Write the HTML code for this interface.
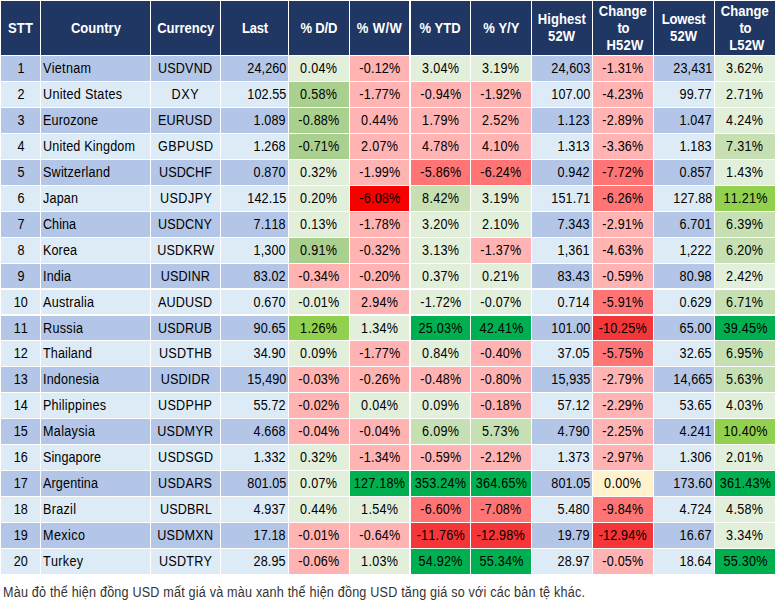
<!DOCTYPE html><html><head><meta charset="utf-8"><style>
html,body{margin:0;padding:0;background:#fff;width:777px;height:602px;overflow:hidden}
#t{position:relative;font-kerning:none;width:777px;height:602px;font-family:"Liberation Sans",Arial,sans-serif;font-size:14px;color:#000}
.x{position:absolute;box-sizing:border-box;white-space:nowrap;overflow:hidden}
.h{background:#203764;color:#fff;font-weight:bold;display:flex;align-items:center;justify-content:center;text-align:center;line-height:17px}
.al{text-align:left;padding-left:2px}
.ar{text-align:right;padding-right:2px}
.ac{text-align:center}
.o{background:#B4C6E7}
.e{background:#DDEBF7}
.kg{background:#E2EFDA}
.kG{background:#C6E0B4}
.km{background:#A9D08E}
.kl{background:#92D050}
.kB{background:#00B050}
.kp{background:#FFB3B3}
.kr{background:#FF7575}
.kR{background:#F43638}
.kX{background:#F70000}
.ky{background:#FFF2CC}
#note{position:absolute;left:3px;top:585px;font-size:14px;line-height:15px;color:#333;letter-spacing:0.215px;white-space:nowrap;transform:scaleX(0.9);transform-origin:0 0}
.sh{position:relative;left:2px}
.pc{display:inline-block;width:11px;transform:scaleX(0.82);transform-origin:0 0}
.gap{display:inline-block;width:5px}

</style></head><body><div id="t">
<div class="x h" style="left:1px;top:1px;width:39px;height:54px"><span><span style="display:inline-block;letter-spacing:0.220px;margin-right:-0.220px;transform:scaleX(0.93);transform-origin:center">STT</span></span></div>
<div class="x h" style="left:41px;top:1px;width:109px;height:54px"><span><span style="display:inline-block;letter-spacing:0.017px;margin-right:-0.017px;transform:scaleX(0.93);transform-origin:center">Country</span></span></div>
<div class="x h" style="left:151px;top:1px;width:69px;height:54px"><span><span style="display:inline-block;letter-spacing:-0.025px;margin-right:0.025px;transform:scaleX(0.93);transform-origin:center">Currency</span></span></div>
<div class="x h" style="left:221px;top:1px;width:67px;height:54px"><span><span style="display:inline-block;letter-spacing:-0.276px;margin-right:0.276px;transform:scaleX(0.93);transform-origin:center">Last</span></span></div>
<div class="x h" style="left:289px;top:1px;width:60px;height:54px"><span><span style="display:inline-block;letter-spacing:-0.166px;margin-right:0.166px;transform:scaleX(0.93);transform-origin:center">% D/D</span></span></div>
<div class="x h" style="left:350px;top:1px;width:59px;height:54px"><span><span style="display:inline-block;letter-spacing:0.433px;margin-right:-0.433px;transform:scaleX(0.93);transform-origin:center">% W/W</span></span></div>
<div class="x h" style="left:411px;top:1px;width:59px;height:54px"><span><span style="display:inline-block;letter-spacing:-0.063px;margin-right:0.063px;transform:scaleX(0.93);transform-origin:center">% YTD</span></span></div>
<div class="x h" style="left:471px;top:1px;width:60px;height:54px"><span><span style="display:inline-block;letter-spacing:-0.048px;margin-right:0.048px;transform:scaleX(0.93);transform-origin:center">% Y/Y</span></span></div>
<div class="x h" style="left:532px;top:1px;width:60px;height:54px"><span><span style="display:inline-block;letter-spacing:0.046px;margin-right:-0.046px;transform:scaleX(0.93);transform-origin:center">Highest</span><br><span style="display:inline-block;letter-spacing:0.123px;margin-right:-0.123px;transform:scaleX(0.93);transform-origin:center">52W</span></span></div>
<div class="x h" style="left:593px;top:1px;width:60px;height:54px"><span><span style="display:inline-block;letter-spacing:0.055px;margin-right:-0.055px;transform:scaleX(0.93);transform-origin:center">Change</span><br><span style="display:inline-block;letter-spacing:-0.311px;margin-right:0.311px;transform:scaleX(0.93);transform-origin:center">to</span><br><span class="sh"><span style="display:inline-block;letter-spacing:0.296px;margin-right:-0.296px;transform:scaleX(0.93);transform-origin:center">H52W</span></span></span></div>
<div class="x h" style="left:654px;top:1px;width:60px;height:54px"><span><span style="display:inline-block;letter-spacing:-0.183px;margin-right:0.183px;transform:scaleX(0.93);transform-origin:center">Lowest</span><br><span style="display:inline-block;letter-spacing:0.123px;margin-right:-0.123px;transform:scaleX(0.93);transform-origin:center">52W</span></span></div>
<div class="x h" style="left:715px;top:1px;width:60px;height:54px"><span><span style="display:inline-block;letter-spacing:0.055px;margin-right:-0.055px;transform:scaleX(0.93);transform-origin:center">Change</span><br><span style="display:inline-block;letter-spacing:-0.311px;margin-right:0.311px;transform:scaleX(0.93);transform-origin:center">to</span><br><span class="sh"><span style="display:inline-block;letter-spacing:0.099px;margin-right:-0.099px;transform:scaleX(0.93);transform-origin:center">L52W</span></span></span></div>
<div class="x ac o" style="left:1px;top:56px;width:39px;height:25px;line-height:25px"><span style="display:inline-block;letter-spacing:0.000px;margin-right:-0.000px;transform:scaleX(0.9);transform-origin:center">1</span></div>
<div class="x al o" style="left:41px;top:56px;width:109px;height:25px;line-height:25px"><span style="display:inline-block;letter-spacing:0.329px;margin-right:-0.329px;transform:scaleX(0.9);transform-origin:left">Vietnam</span></div>
<div class="x ac o" style="left:151px;top:56px;width:69px;height:25px;line-height:25px"><span style="display:inline-block;letter-spacing:0.177px;margin-right:-0.177px;transform:scaleX(0.9);transform-origin:center">USDVND</span></div>
<div class="x ar o" style="left:221px;top:56px;width:67px;height:25px;line-height:25px"><span style="display:inline-block;letter-spacing:0.103px;margin-right:-0.103px;transform:scaleX(0.9);transform-origin:right">24,260</span></div>
<div class="x ac kg" style="left:289px;top:56px;width:60px;height:25px;line-height:25px"><span style="display:inline-block;letter-spacing:0.354px;margin-right:-0.354px;transform:scaleX(0.9);transform-origin:center">0.04%</span></div>
<div class="x ac kp" style="left:350px;top:56px;width:59px;height:25px;line-height:25px"><span style="display:inline-block;letter-spacing:0.239px;margin-right:-0.239px;transform:scaleX(0.9);transform-origin:center">-0.12%</span></div>
<div class="x ac kg" style="left:411px;top:56px;width:59px;height:25px;line-height:25px"><span style="display:inline-block;letter-spacing:0.354px;margin-right:-0.354px;transform:scaleX(0.9);transform-origin:center">3.04%</span></div>
<div class="x ac kg" style="left:471px;top:56px;width:60px;height:25px;line-height:25px"><span style="display:inline-block;letter-spacing:0.354px;margin-right:-0.354px;transform:scaleX(0.9);transform-origin:center">3.19%</span></div>
<div class="x ar o" style="left:532px;top:56px;width:60px;height:25px;line-height:25px"><span style="display:inline-block;letter-spacing:0.103px;margin-right:-0.103px;transform:scaleX(0.9);transform-origin:right">24,603</span></div>
<div class="x ac kp" style="left:593px;top:56px;width:60px;height:25px;line-height:25px"><span style="display:inline-block;letter-spacing:0.239px;margin-right:-0.239px;transform:scaleX(0.9);transform-origin:center">-1.31%</span></div>
<div class="x ar o" style="left:654px;top:56px;width:60px;height:25px;line-height:25px"><span style="display:inline-block;letter-spacing:0.103px;margin-right:-0.103px;transform:scaleX(0.9);transform-origin:right">23,431</span></div>
<div class="x ac kg" style="left:715px;top:56px;width:60px;height:25px;line-height:25px"><span style="display:inline-block;letter-spacing:0.354px;margin-right:-0.354px;transform:scaleX(0.9);transform-origin:center">3.62%</span></div>
<div class="x ac e" style="left:1px;top:82px;width:39px;height:25px;line-height:25px"><span style="display:inline-block;letter-spacing:0.000px;margin-right:-0.000px;transform:scaleX(0.9);transform-origin:center">2</span></div>
<div class="x al e" style="left:41px;top:82px;width:109px;height:25px;line-height:25px"><span style="display:inline-block;letter-spacing:0.311px;margin-right:-0.311px;transform:scaleX(0.9);transform-origin:left">United States</span></div>
<div class="x ac e" style="left:151px;top:82px;width:69px;height:25px;line-height:25px"><span style="display:inline-block;letter-spacing:0.607px;margin-right:-0.607px;transform:scaleX(0.9);transform-origin:center">DXY</span></div>
<div class="x ar e" style="left:221px;top:82px;width:67px;height:25px;line-height:25px"><span style="display:inline-block;letter-spacing:0.103px;margin-right:-0.103px;transform:scaleX(0.9);transform-origin:right">102.55</span></div>
<div class="x ac km" style="left:289px;top:82px;width:60px;height:25px;line-height:25px"><span style="display:inline-block;letter-spacing:0.354px;margin-right:-0.354px;transform:scaleX(0.9);transform-origin:center">0.58%</span></div>
<div class="x ac kp" style="left:350px;top:82px;width:59px;height:25px;line-height:25px"><span style="display:inline-block;letter-spacing:0.239px;margin-right:-0.239px;transform:scaleX(0.9);transform-origin:center">-1.77%</span></div>
<div class="x ac kp" style="left:411px;top:82px;width:59px;height:25px;line-height:25px"><span style="display:inline-block;letter-spacing:0.239px;margin-right:-0.239px;transform:scaleX(0.9);transform-origin:center">-0.94%</span></div>
<div class="x ac kp" style="left:471px;top:82px;width:60px;height:25px;line-height:25px"><span style="display:inline-block;letter-spacing:0.239px;margin-right:-0.239px;transform:scaleX(0.9);transform-origin:center">-1.92%</span></div>
<div class="x ar e" style="left:532px;top:82px;width:60px;height:25px;line-height:25px"><span style="display:inline-block;letter-spacing:0.103px;margin-right:-0.103px;transform:scaleX(0.9);transform-origin:right">107.00</span></div>
<div class="x ac kp" style="left:593px;top:82px;width:60px;height:25px;line-height:25px"><span style="display:inline-block;letter-spacing:0.239px;margin-right:-0.239px;transform:scaleX(0.9);transform-origin:center">-4.23%</span></div>
<div class="x ar e" style="left:654px;top:82px;width:60px;height:25px;line-height:25px"><span style="display:inline-block;letter-spacing:0.130px;margin-right:-0.130px;transform:scaleX(0.9);transform-origin:right">99.77</span></div>
<div class="x ac kg" style="left:715px;top:82px;width:60px;height:25px;line-height:25px"><span style="display:inline-block;letter-spacing:0.354px;margin-right:-0.354px;transform:scaleX(0.9);transform-origin:center">2.71%</span></div>
<div class="x ac o" style="left:1px;top:108px;width:39px;height:25px;line-height:25px"><span style="display:inline-block;letter-spacing:0.000px;margin-right:-0.000px;transform:scaleX(0.9);transform-origin:center">3</span></div>
<div class="x al o" style="left:41px;top:108px;width:109px;height:25px;line-height:25px"><span style="display:inline-block;letter-spacing:0.169px;margin-right:-0.169px;transform:scaleX(0.9);transform-origin:left">Eurozone</span></div>
<div class="x ac o" style="left:151px;top:108px;width:69px;height:25px;line-height:25px"><span style="display:inline-block;letter-spacing:0.177px;margin-right:-0.177px;transform:scaleX(0.9);transform-origin:center">EURUSD</span></div>
<div class="x ar o" style="left:221px;top:108px;width:67px;height:25px;line-height:25px"><span style="display:inline-block;letter-spacing:0.130px;margin-right:-0.130px;transform:scaleX(0.9);transform-origin:right">1.089</span></div>
<div class="x ac km" style="left:289px;top:108px;width:60px;height:25px;line-height:25px"><span style="display:inline-block;letter-spacing:0.239px;margin-right:-0.239px;transform:scaleX(0.9);transform-origin:center">-0.88%</span></div>
<div class="x ac kp" style="left:350px;top:108px;width:59px;height:25px;line-height:25px"><span style="display:inline-block;letter-spacing:0.354px;margin-right:-0.354px;transform:scaleX(0.9);transform-origin:center">0.44%</span></div>
<div class="x ac kp" style="left:411px;top:108px;width:59px;height:25px;line-height:25px"><span style="display:inline-block;letter-spacing:0.354px;margin-right:-0.354px;transform:scaleX(0.9);transform-origin:center">1.79%</span></div>
<div class="x ac kp" style="left:471px;top:108px;width:60px;height:25px;line-height:25px"><span style="display:inline-block;letter-spacing:0.354px;margin-right:-0.354px;transform:scaleX(0.9);transform-origin:center">2.52%</span></div>
<div class="x ar o" style="left:532px;top:108px;width:60px;height:25px;line-height:25px"><span style="display:inline-block;letter-spacing:0.130px;margin-right:-0.130px;transform:scaleX(0.9);transform-origin:right">1.123</span></div>
<div class="x ac kp" style="left:593px;top:108px;width:60px;height:25px;line-height:25px"><span style="display:inline-block;letter-spacing:0.239px;margin-right:-0.239px;transform:scaleX(0.9);transform-origin:center">-2.89%</span></div>
<div class="x ar o" style="left:654px;top:108px;width:60px;height:25px;line-height:25px"><span style="display:inline-block;letter-spacing:0.130px;margin-right:-0.130px;transform:scaleX(0.9);transform-origin:right">1.047</span></div>
<div class="x ac kg" style="left:715px;top:108px;width:60px;height:25px;line-height:25px"><span style="display:inline-block;letter-spacing:0.354px;margin-right:-0.354px;transform:scaleX(0.9);transform-origin:center">4.24%</span></div>
<div class="x ac e" style="left:1px;top:134px;width:39px;height:25px;line-height:25px"><span style="display:inline-block;letter-spacing:0.000px;margin-right:-0.000px;transform:scaleX(0.9);transform-origin:center">4</span></div>
<div class="x al e" style="left:41px;top:134px;width:109px;height:25px;line-height:25px"><span style="display:inline-block;letter-spacing:0.201px;margin-right:-0.201px;transform:scaleX(0.9);transform-origin:left">United Kingdom</span></div>
<div class="x ac e" style="left:151px;top:134px;width:69px;height:25px;line-height:25px"><span style="display:inline-block;letter-spacing:0.397px;margin-right:-0.397px;transform:scaleX(0.9);transform-origin:center">GBPUSD</span></div>
<div class="x ar e" style="left:221px;top:134px;width:67px;height:25px;line-height:25px"><span style="display:inline-block;letter-spacing:0.130px;margin-right:-0.130px;transform:scaleX(0.9);transform-origin:right">1.268</span></div>
<div class="x ac km" style="left:289px;top:134px;width:60px;height:25px;line-height:25px"><span style="display:inline-block;letter-spacing:0.239px;margin-right:-0.239px;transform:scaleX(0.9);transform-origin:center">-0.71%</span></div>
<div class="x ac kp" style="left:350px;top:134px;width:59px;height:25px;line-height:25px"><span style="display:inline-block;letter-spacing:0.354px;margin-right:-0.354px;transform:scaleX(0.9);transform-origin:center">2.07%</span></div>
<div class="x ac kp" style="left:411px;top:134px;width:59px;height:25px;line-height:25px"><span style="display:inline-block;letter-spacing:0.354px;margin-right:-0.354px;transform:scaleX(0.9);transform-origin:center">4.78%</span></div>
<div class="x ac kp" style="left:471px;top:134px;width:60px;height:25px;line-height:25px"><span style="display:inline-block;letter-spacing:0.354px;margin-right:-0.354px;transform:scaleX(0.9);transform-origin:center">4.10%</span></div>
<div class="x ar e" style="left:532px;top:134px;width:60px;height:25px;line-height:25px"><span style="display:inline-block;letter-spacing:0.130px;margin-right:-0.130px;transform:scaleX(0.9);transform-origin:right">1.313</span></div>
<div class="x ac kp" style="left:593px;top:134px;width:60px;height:25px;line-height:25px"><span style="display:inline-block;letter-spacing:0.239px;margin-right:-0.239px;transform:scaleX(0.9);transform-origin:center">-3.36%</span></div>
<div class="x ar e" style="left:654px;top:134px;width:60px;height:25px;line-height:25px"><span style="display:inline-block;letter-spacing:0.130px;margin-right:-0.130px;transform:scaleX(0.9);transform-origin:right">1.183</span></div>
<div class="x ac kG" style="left:715px;top:134px;width:60px;height:25px;line-height:25px"><span style="display:inline-block;letter-spacing:0.354px;margin-right:-0.354px;transform:scaleX(0.9);transform-origin:center">7.31%</span></div>
<div class="x ac o" style="left:1px;top:160px;width:39px;height:25px;line-height:25px"><span style="display:inline-block;letter-spacing:0.000px;margin-right:-0.000px;transform:scaleX(0.9);transform-origin:center">5</span></div>
<div class="x al o" style="left:41px;top:160px;width:109px;height:25px;line-height:25px"><span style="display:inline-block;letter-spacing:0.208px;margin-right:-0.208px;transform:scaleX(0.9);transform-origin:left">Switzerland</span></div>
<div class="x ac o" style="left:151px;top:160px;width:69px;height:25px;line-height:25px"><span style="display:inline-block;letter-spacing:0.112px;margin-right:-0.112px;transform:scaleX(0.9);transform-origin:center">USDCHF</span></div>
<div class="x ar o" style="left:221px;top:160px;width:67px;height:25px;line-height:25px"><span style="display:inline-block;letter-spacing:0.130px;margin-right:-0.130px;transform:scaleX(0.9);transform-origin:right">0.870</span></div>
<div class="x ac kg" style="left:289px;top:160px;width:60px;height:25px;line-height:25px"><span style="display:inline-block;letter-spacing:0.354px;margin-right:-0.354px;transform:scaleX(0.9);transform-origin:center">0.32%</span></div>
<div class="x ac kp" style="left:350px;top:160px;width:59px;height:25px;line-height:25px"><span style="display:inline-block;letter-spacing:0.239px;margin-right:-0.239px;transform:scaleX(0.9);transform-origin:center">-1.99%</span></div>
<div class="x ac kr" style="left:411px;top:160px;width:59px;height:25px;line-height:25px"><span style="display:inline-block;letter-spacing:0.239px;margin-right:-0.239px;transform:scaleX(0.9);transform-origin:center">-5.86%</span></div>
<div class="x ac kr" style="left:471px;top:160px;width:60px;height:25px;line-height:25px"><span style="display:inline-block;letter-spacing:0.239px;margin-right:-0.239px;transform:scaleX(0.9);transform-origin:center">-6.24%</span></div>
<div class="x ar o" style="left:532px;top:160px;width:60px;height:25px;line-height:25px"><span style="display:inline-block;letter-spacing:0.130px;margin-right:-0.130px;transform:scaleX(0.9);transform-origin:right">0.942</span></div>
<div class="x ac kr" style="left:593px;top:160px;width:60px;height:25px;line-height:25px"><span style="display:inline-block;letter-spacing:0.239px;margin-right:-0.239px;transform:scaleX(0.9);transform-origin:center">-7.72%</span></div>
<div class="x ar o" style="left:654px;top:160px;width:60px;height:25px;line-height:25px"><span style="display:inline-block;letter-spacing:0.130px;margin-right:-0.130px;transform:scaleX(0.9);transform-origin:right">0.857</span></div>
<div class="x ac kg" style="left:715px;top:160px;width:60px;height:25px;line-height:25px"><span style="display:inline-block;letter-spacing:0.354px;margin-right:-0.354px;transform:scaleX(0.9);transform-origin:center">1.43%</span></div>
<div class="x ac e" style="left:1px;top:186px;width:39px;height:25px;line-height:25px"><span style="display:inline-block;letter-spacing:0.000px;margin-right:-0.000px;transform:scaleX(0.9);transform-origin:center">6</span></div>
<div class="x al e" style="left:41px;top:186px;width:109px;height:25px;line-height:25px"><span style="display:inline-block;letter-spacing:0.186px;margin-right:-0.186px;transform:scaleX(0.9);transform-origin:left">Japan</span></div>
<div class="x ac e" style="left:151px;top:186px;width:69px;height:25px;line-height:25px"><span style="display:inline-block;letter-spacing:0.509px;margin-right:-0.509px;transform:scaleX(0.9);transform-origin:center">USDJPY</span></div>
<div class="x ar e" style="left:221px;top:186px;width:67px;height:25px;line-height:25px"><span style="display:inline-block;letter-spacing:0.103px;margin-right:-0.103px;transform:scaleX(0.9);transform-origin:right">142.15</span></div>
<div class="x ac kg" style="left:289px;top:186px;width:60px;height:25px;line-height:25px"><span style="display:inline-block;letter-spacing:0.354px;margin-right:-0.354px;transform:scaleX(0.9);transform-origin:center">0.20%</span></div>
<div class="x ac kX" style="left:350px;top:186px;width:59px;height:25px;line-height:25px"><span style="display:inline-block;letter-spacing:0.239px;margin-right:-0.239px;transform:scaleX(0.9);transform-origin:center">-6.08%</span></div>
<div class="x ac kG" style="left:411px;top:186px;width:59px;height:25px;line-height:25px"><span style="display:inline-block;letter-spacing:0.354px;margin-right:-0.354px;transform:scaleX(0.9);transform-origin:center">8.42%</span></div>
<div class="x ac kg" style="left:471px;top:186px;width:60px;height:25px;line-height:25px"><span style="display:inline-block;letter-spacing:0.354px;margin-right:-0.354px;transform:scaleX(0.9);transform-origin:center">3.19%</span></div>
<div class="x ar e" style="left:532px;top:186px;width:60px;height:25px;line-height:25px"><span style="display:inline-block;letter-spacing:0.103px;margin-right:-0.103px;transform:scaleX(0.9);transform-origin:right">151.71</span></div>
<div class="x ac kr" style="left:593px;top:186px;width:60px;height:25px;line-height:25px"><span style="display:inline-block;letter-spacing:0.239px;margin-right:-0.239px;transform:scaleX(0.9);transform-origin:center">-6.26%</span></div>
<div class="x ar e" style="left:654px;top:186px;width:60px;height:25px;line-height:25px"><span style="display:inline-block;letter-spacing:0.103px;margin-right:-0.103px;transform:scaleX(0.9);transform-origin:right">127.88</span></div>
<div class="x ac kl" style="left:715px;top:186px;width:60px;height:25px;line-height:25px"><span style="display:inline-block;letter-spacing:0.281px;margin-right:-0.281px;transform:scaleX(0.9);transform-origin:center">11.21%</span></div>
<div class="x ac o" style="left:1px;top:212px;width:39px;height:25px;line-height:25px"><span style="display:inline-block;letter-spacing:0.000px;margin-right:-0.000px;transform:scaleX(0.9);transform-origin:center">7</span></div>
<div class="x al o" style="left:41px;top:212px;width:109px;height:25px;line-height:25px"><span style="display:inline-block;letter-spacing:0.022px;margin-right:-0.022px;transform:scaleX(0.9);transform-origin:left">China</span></div>
<div class="x ac o" style="left:151px;top:212px;width:69px;height:25px;line-height:25px"><span style="display:inline-block;letter-spacing:0.177px;margin-right:-0.177px;transform:scaleX(0.9);transform-origin:center">USDCNY</span></div>
<div class="x ar o" style="left:221px;top:212px;width:67px;height:25px;line-height:25px"><span style="display:inline-block;letter-spacing:0.130px;margin-right:-0.130px;transform:scaleX(0.9);transform-origin:right">7.118</span></div>
<div class="x ac kg" style="left:289px;top:212px;width:60px;height:25px;line-height:25px"><span style="display:inline-block;letter-spacing:0.354px;margin-right:-0.354px;transform:scaleX(0.9);transform-origin:center">0.13%</span></div>
<div class="x ac kp" style="left:350px;top:212px;width:59px;height:25px;line-height:25px"><span style="display:inline-block;letter-spacing:0.239px;margin-right:-0.239px;transform:scaleX(0.9);transform-origin:center">-1.78%</span></div>
<div class="x ac kg" style="left:411px;top:212px;width:59px;height:25px;line-height:25px"><span style="display:inline-block;letter-spacing:0.354px;margin-right:-0.354px;transform:scaleX(0.9);transform-origin:center">3.20%</span></div>
<div class="x ac kg" style="left:471px;top:212px;width:60px;height:25px;line-height:25px"><span style="display:inline-block;letter-spacing:0.354px;margin-right:-0.354px;transform:scaleX(0.9);transform-origin:center">2.10%</span></div>
<div class="x ar o" style="left:532px;top:212px;width:60px;height:25px;line-height:25px"><span style="display:inline-block;letter-spacing:0.130px;margin-right:-0.130px;transform:scaleX(0.9);transform-origin:right">7.343</span></div>
<div class="x ac kp" style="left:593px;top:212px;width:60px;height:25px;line-height:25px"><span style="display:inline-block;letter-spacing:0.239px;margin-right:-0.239px;transform:scaleX(0.9);transform-origin:center">-2.91%</span></div>
<div class="x ar o" style="left:654px;top:212px;width:60px;height:25px;line-height:25px"><span style="display:inline-block;letter-spacing:0.130px;margin-right:-0.130px;transform:scaleX(0.9);transform-origin:right">6.701</span></div>
<div class="x ac kG" style="left:715px;top:212px;width:60px;height:25px;line-height:25px"><span style="display:inline-block;letter-spacing:0.354px;margin-right:-0.354px;transform:scaleX(0.9);transform-origin:center">6.39%</span></div>
<div class="x ac e" style="left:1px;top:238px;width:39px;height:25px;line-height:25px"><span style="display:inline-block;letter-spacing:0.000px;margin-right:-0.000px;transform:scaleX(0.9);transform-origin:center">8</span></div>
<div class="x al e" style="left:41px;top:238px;width:109px;height:25px;line-height:25px"><span style="display:inline-block;letter-spacing:0.105px;margin-right:-0.105px;transform:scaleX(0.9);transform-origin:left">Korea</span></div>
<div class="x ac e" style="left:151px;top:238px;width:69px;height:25px;line-height:25px"><span style="display:inline-block;letter-spacing:0.223px;margin-right:-0.223px;transform:scaleX(0.9);transform-origin:center">USDKRW</span></div>
<div class="x ar e" style="left:221px;top:238px;width:67px;height:25px;line-height:25px"><span style="display:inline-block;letter-spacing:0.130px;margin-right:-0.130px;transform:scaleX(0.9);transform-origin:right">1,300</span></div>
<div class="x ac km" style="left:289px;top:238px;width:60px;height:25px;line-height:25px"><span style="display:inline-block;letter-spacing:0.354px;margin-right:-0.354px;transform:scaleX(0.9);transform-origin:center">0.91%</span></div>
<div class="x ac kp" style="left:350px;top:238px;width:59px;height:25px;line-height:25px"><span style="display:inline-block;letter-spacing:0.239px;margin-right:-0.239px;transform:scaleX(0.9);transform-origin:center">-0.32%</span></div>
<div class="x ac kg" style="left:411px;top:238px;width:59px;height:25px;line-height:25px"><span style="display:inline-block;letter-spacing:0.354px;margin-right:-0.354px;transform:scaleX(0.9);transform-origin:center">3.13%</span></div>
<div class="x ac kp" style="left:471px;top:238px;width:60px;height:25px;line-height:25px"><span style="display:inline-block;letter-spacing:0.239px;margin-right:-0.239px;transform:scaleX(0.9);transform-origin:center">-1.37%</span></div>
<div class="x ar e" style="left:532px;top:238px;width:60px;height:25px;line-height:25px"><span style="display:inline-block;letter-spacing:0.130px;margin-right:-0.130px;transform:scaleX(0.9);transform-origin:right">1,361</span></div>
<div class="x ac kp" style="left:593px;top:238px;width:60px;height:25px;line-height:25px"><span style="display:inline-block;letter-spacing:0.239px;margin-right:-0.239px;transform:scaleX(0.9);transform-origin:center">-4.63%</span></div>
<div class="x ar e" style="left:654px;top:238px;width:60px;height:25px;line-height:25px"><span style="display:inline-block;letter-spacing:0.130px;margin-right:-0.130px;transform:scaleX(0.9);transform-origin:right">1,222</span></div>
<div class="x ac kG" style="left:715px;top:238px;width:60px;height:25px;line-height:25px"><span style="display:inline-block;letter-spacing:0.354px;margin-right:-0.354px;transform:scaleX(0.9);transform-origin:center">6.20%</span></div>
<div class="x ac o" style="left:1px;top:264px;width:39px;height:24px;line-height:24px"><span style="display:inline-block;letter-spacing:0.000px;margin-right:-0.000px;transform:scaleX(0.9);transform-origin:center">9</span></div>
<div class="x al o" style="left:41px;top:264px;width:109px;height:24px;line-height:24px"><span style="display:inline-block;letter-spacing:0.188px;margin-right:-0.188px;transform:scaleX(0.9);transform-origin:left">India</span></div>
<div class="x ac o" style="left:151px;top:264px;width:69px;height:24px;line-height:24px"><span style="display:inline-block;letter-spacing:0.155px;margin-right:-0.155px;transform:scaleX(0.9);transform-origin:center">USDINR</span></div>
<div class="x ar o" style="left:221px;top:264px;width:67px;height:24px;line-height:24px"><span style="display:inline-block;letter-spacing:0.130px;margin-right:-0.130px;transform:scaleX(0.9);transform-origin:right">83.02</span></div>
<div class="x ac kp" style="left:289px;top:264px;width:60px;height:24px;line-height:24px"><span style="display:inline-block;letter-spacing:0.239px;margin-right:-0.239px;transform:scaleX(0.9);transform-origin:center">-0.34%</span></div>
<div class="x ac kp" style="left:350px;top:264px;width:59px;height:24px;line-height:24px"><span style="display:inline-block;letter-spacing:0.239px;margin-right:-0.239px;transform:scaleX(0.9);transform-origin:center">-0.20%</span></div>
<div class="x ac kg" style="left:411px;top:264px;width:59px;height:24px;line-height:24px"><span style="display:inline-block;letter-spacing:0.354px;margin-right:-0.354px;transform:scaleX(0.9);transform-origin:center">0.37%</span></div>
<div class="x ac kg" style="left:471px;top:264px;width:60px;height:24px;line-height:24px"><span style="display:inline-block;letter-spacing:0.354px;margin-right:-0.354px;transform:scaleX(0.9);transform-origin:center">0.21%</span></div>
<div class="x ar o" style="left:532px;top:264px;width:60px;height:24px;line-height:24px"><span style="display:inline-block;letter-spacing:0.130px;margin-right:-0.130px;transform:scaleX(0.9);transform-origin:right">83.43</span></div>
<div class="x ac kp" style="left:593px;top:264px;width:60px;height:24px;line-height:24px"><span style="display:inline-block;letter-spacing:0.239px;margin-right:-0.239px;transform:scaleX(0.9);transform-origin:center">-0.59%</span></div>
<div class="x ar o" style="left:654px;top:264px;width:60px;height:24px;line-height:24px"><span style="display:inline-block;letter-spacing:0.130px;margin-right:-0.130px;transform:scaleX(0.9);transform-origin:right">80.98</span></div>
<div class="x ac kg" style="left:715px;top:264px;width:60px;height:24px;line-height:24px"><span style="display:inline-block;letter-spacing:0.354px;margin-right:-0.354px;transform:scaleX(0.9);transform-origin:center">2.42%</span></div>
<div class="x ac e" style="left:1px;top:290px;width:39px;height:24px;line-height:24px"><span style="display:inline-block;letter-spacing:-0.017px;margin-right:0.017px;transform:scaleX(0.9);transform-origin:center">10</span></div>
<div class="x al e" style="left:41px;top:290px;width:109px;height:24px;line-height:24px"><span style="display:inline-block;letter-spacing:0.275px;margin-right:-0.275px;transform:scaleX(0.9);transform-origin:left">Australia</span></div>
<div class="x ac e" style="left:151px;top:290px;width:69px;height:24px;line-height:24px"><span style="display:inline-block;letter-spacing:0.177px;margin-right:-0.177px;transform:scaleX(0.9);transform-origin:center">AUDUSD</span></div>
<div class="x ar e" style="left:221px;top:290px;width:67px;height:24px;line-height:24px"><span style="display:inline-block;letter-spacing:0.130px;margin-right:-0.130px;transform:scaleX(0.9);transform-origin:right">0.670</span></div>
<div class="x ac kg" style="left:289px;top:290px;width:60px;height:24px;line-height:24px"><span style="display:inline-block;letter-spacing:0.239px;margin-right:-0.239px;transform:scaleX(0.9);transform-origin:center">-0.01%</span></div>
<div class="x ac kp" style="left:350px;top:290px;width:59px;height:24px;line-height:24px"><span style="display:inline-block;letter-spacing:0.354px;margin-right:-0.354px;transform:scaleX(0.9);transform-origin:center">2.94%</span></div>
<div class="x ac kg" style="left:411px;top:290px;width:59px;height:24px;line-height:24px"><span style="display:inline-block;letter-spacing:0.239px;margin-right:-0.239px;transform:scaleX(0.9);transform-origin:center">-1.72%</span></div>
<div class="x ac kg" style="left:471px;top:290px;width:60px;height:24px;line-height:24px"><span style="display:inline-block;letter-spacing:0.239px;margin-right:-0.239px;transform:scaleX(0.9);transform-origin:center">-0.07%</span></div>
<div class="x ar e" style="left:532px;top:290px;width:60px;height:24px;line-height:24px"><span style="display:inline-block;letter-spacing:0.130px;margin-right:-0.130px;transform:scaleX(0.9);transform-origin:right">0.714</span></div>
<div class="x ac kr" style="left:593px;top:290px;width:60px;height:24px;line-height:24px"><span style="display:inline-block;letter-spacing:0.239px;margin-right:-0.239px;transform:scaleX(0.9);transform-origin:center">-5.91%</span></div>
<div class="x ar e" style="left:654px;top:290px;width:60px;height:24px;line-height:24px"><span style="display:inline-block;letter-spacing:0.130px;margin-right:-0.130px;transform:scaleX(0.9);transform-origin:right">0.629</span></div>
<div class="x ac kG" style="left:715px;top:290px;width:60px;height:24px;line-height:24px"><span style="display:inline-block;letter-spacing:0.354px;margin-right:-0.354px;transform:scaleX(0.9);transform-origin:center">6.71%</span></div>
<div class="x ac o" style="left:1px;top:316px;width:39px;height:24px;line-height:24px"><span style="display:inline-block;letter-spacing:-0.017px;margin-right:0.017px;transform:scaleX(0.9);transform-origin:center">11</span></div>
<div class="x al o" style="left:41px;top:316px;width:109px;height:24px;line-height:24px"><span style="display:inline-block;letter-spacing:0.330px;margin-right:-0.330px;transform:scaleX(0.9);transform-origin:left">Russia</span></div>
<div class="x ac o" style="left:151px;top:316px;width:69px;height:24px;line-height:24px"><span style="display:inline-block;letter-spacing:0.177px;margin-right:-0.177px;transform:scaleX(0.9);transform-origin:center">USDRUB</span></div>
<div class="x ar o" style="left:221px;top:316px;width:67px;height:24px;line-height:24px"><span style="display:inline-block;letter-spacing:0.130px;margin-right:-0.130px;transform:scaleX(0.9);transform-origin:right">90.65</span></div>
<div class="x ac kl" style="left:289px;top:316px;width:60px;height:24px;line-height:24px"><span style="display:inline-block;letter-spacing:0.354px;margin-right:-0.354px;transform:scaleX(0.9);transform-origin:center">1.26%</span></div>
<div class="x ac kg" style="left:350px;top:316px;width:59px;height:24px;line-height:24px"><span style="display:inline-block;letter-spacing:0.354px;margin-right:-0.354px;transform:scaleX(0.9);transform-origin:center">1.34%</span></div>
<div class="x ac kB" style="left:411px;top:316px;width:59px;height:24px;line-height:24px"><span style="display:inline-block;letter-spacing:0.281px;margin-right:-0.281px;transform:scaleX(0.9);transform-origin:center">25.03%</span></div>
<div class="x ac kB" style="left:471px;top:316px;width:60px;height:24px;line-height:24px"><span style="display:inline-block;letter-spacing:0.281px;margin-right:-0.281px;transform:scaleX(0.9);transform-origin:center">42.41%</span></div>
<div class="x ar o" style="left:532px;top:316px;width:60px;height:24px;line-height:24px"><span style="display:inline-block;letter-spacing:0.103px;margin-right:-0.103px;transform:scaleX(0.9);transform-origin:right">101.00</span></div>
<div class="x ac kR" style="left:593px;top:316px;width:60px;height:24px;line-height:24px"><span style="display:inline-block;letter-spacing:0.198px;margin-right:-0.198px;transform:scaleX(0.9);transform-origin:center">-10.25%</span></div>
<div class="x ar o" style="left:654px;top:316px;width:60px;height:24px;line-height:24px"><span style="display:inline-block;letter-spacing:0.130px;margin-right:-0.130px;transform:scaleX(0.9);transform-origin:right">65.00</span></div>
<div class="x ac kB" style="left:715px;top:316px;width:60px;height:24px;line-height:24px"><span style="display:inline-block;letter-spacing:0.281px;margin-right:-0.281px;transform:scaleX(0.9);transform-origin:center">39.45%</span></div>
<div class="x ac e" style="left:1px;top:341px;width:39px;height:25px;line-height:25px"><span style="display:inline-block;letter-spacing:-0.017px;margin-right:0.017px;transform:scaleX(0.9);transform-origin:center">12</span></div>
<div class="x al e" style="left:41px;top:341px;width:109px;height:25px;line-height:25px"><span style="display:inline-block;letter-spacing:0.106px;margin-right:-0.106px;transform:scaleX(0.9);transform-origin:left">Thailand</span></div>
<div class="x ac e" style="left:151px;top:341px;width:69px;height:25px;line-height:25px"><span style="display:inline-block;letter-spacing:0.266px;margin-right:-0.266px;transform:scaleX(0.9);transform-origin:center">USDTHB</span></div>
<div class="x ar e" style="left:221px;top:341px;width:67px;height:25px;line-height:25px"><span style="display:inline-block;letter-spacing:0.130px;margin-right:-0.130px;transform:scaleX(0.9);transform-origin:right">34.90</span></div>
<div class="x ac kg" style="left:289px;top:341px;width:60px;height:25px;line-height:25px"><span style="display:inline-block;letter-spacing:0.354px;margin-right:-0.354px;transform:scaleX(0.9);transform-origin:center">0.09%</span></div>
<div class="x ac kp" style="left:350px;top:341px;width:59px;height:25px;line-height:25px"><span style="display:inline-block;letter-spacing:0.239px;margin-right:-0.239px;transform:scaleX(0.9);transform-origin:center">-1.77%</span></div>
<div class="x ac kg" style="left:411px;top:341px;width:59px;height:25px;line-height:25px"><span style="display:inline-block;letter-spacing:0.354px;margin-right:-0.354px;transform:scaleX(0.9);transform-origin:center">0.84%</span></div>
<div class="x ac kp" style="left:471px;top:341px;width:60px;height:25px;line-height:25px"><span style="display:inline-block;letter-spacing:0.239px;margin-right:-0.239px;transform:scaleX(0.9);transform-origin:center">-0.40%</span></div>
<div class="x ar e" style="left:532px;top:341px;width:60px;height:25px;line-height:25px"><span style="display:inline-block;letter-spacing:0.130px;margin-right:-0.130px;transform:scaleX(0.9);transform-origin:right">37.05</span></div>
<div class="x ac kr" style="left:593px;top:341px;width:60px;height:25px;line-height:25px"><span style="display:inline-block;letter-spacing:0.239px;margin-right:-0.239px;transform:scaleX(0.9);transform-origin:center">-5.75%</span></div>
<div class="x ar e" style="left:654px;top:341px;width:60px;height:25px;line-height:25px"><span style="display:inline-block;letter-spacing:0.130px;margin-right:-0.130px;transform:scaleX(0.9);transform-origin:right">32.65</span></div>
<div class="x ac kG" style="left:715px;top:341px;width:60px;height:25px;line-height:25px"><span style="display:inline-block;letter-spacing:0.354px;margin-right:-0.354px;transform:scaleX(0.9);transform-origin:center">6.95%</span></div>
<div class="x ac o" style="left:1px;top:367px;width:39px;height:25px;line-height:25px"><span style="display:inline-block;letter-spacing:-0.017px;margin-right:0.017px;transform:scaleX(0.9);transform-origin:center">13</span></div>
<div class="x al o" style="left:41px;top:367px;width:109px;height:25px;line-height:25px"><span style="display:inline-block;letter-spacing:0.188px;margin-right:-0.188px;transform:scaleX(0.9);transform-origin:left">Indonesia</span></div>
<div class="x ac o" style="left:151px;top:367px;width:69px;height:25px;line-height:25px"><span style="display:inline-block;letter-spacing:0.155px;margin-right:-0.155px;transform:scaleX(0.9);transform-origin:center">USDIDR</span></div>
<div class="x ar o" style="left:221px;top:367px;width:67px;height:25px;line-height:25px"><span style="display:inline-block;letter-spacing:0.103px;margin-right:-0.103px;transform:scaleX(0.9);transform-origin:right">15,490</span></div>
<div class="x ac kp" style="left:289px;top:367px;width:60px;height:25px;line-height:25px"><span style="display:inline-block;letter-spacing:0.239px;margin-right:-0.239px;transform:scaleX(0.9);transform-origin:center">-0.03%</span></div>
<div class="x ac kp" style="left:350px;top:367px;width:59px;height:25px;line-height:25px"><span style="display:inline-block;letter-spacing:0.239px;margin-right:-0.239px;transform:scaleX(0.9);transform-origin:center">-0.26%</span></div>
<div class="x ac kp" style="left:411px;top:367px;width:59px;height:25px;line-height:25px"><span style="display:inline-block;letter-spacing:0.239px;margin-right:-0.239px;transform:scaleX(0.9);transform-origin:center">-0.48%</span></div>
<div class="x ac kp" style="left:471px;top:367px;width:60px;height:25px;line-height:25px"><span style="display:inline-block;letter-spacing:0.239px;margin-right:-0.239px;transform:scaleX(0.9);transform-origin:center">-0.80%</span></div>
<div class="x ar o" style="left:532px;top:367px;width:60px;height:25px;line-height:25px"><span style="display:inline-block;letter-spacing:0.103px;margin-right:-0.103px;transform:scaleX(0.9);transform-origin:right">15,935</span></div>
<div class="x ac kp" style="left:593px;top:367px;width:60px;height:25px;line-height:25px"><span style="display:inline-block;letter-spacing:0.239px;margin-right:-0.239px;transform:scaleX(0.9);transform-origin:center">-2.79%</span></div>
<div class="x ar o" style="left:654px;top:367px;width:60px;height:25px;line-height:25px"><span style="display:inline-block;letter-spacing:0.103px;margin-right:-0.103px;transform:scaleX(0.9);transform-origin:right">14,665</span></div>
<div class="x ac kG" style="left:715px;top:367px;width:60px;height:25px;line-height:25px"><span style="display:inline-block;letter-spacing:0.354px;margin-right:-0.354px;transform:scaleX(0.9);transform-origin:center">5.63%</span></div>
<div class="x ac e" style="left:1px;top:393px;width:39px;height:25px;line-height:25px"><span style="display:inline-block;letter-spacing:-0.017px;margin-right:0.017px;transform:scaleX(0.9);transform-origin:center">14</span></div>
<div class="x al e" style="left:41px;top:393px;width:109px;height:25px;line-height:25px"><span style="display:inline-block;letter-spacing:0.229px;margin-right:-0.229px;transform:scaleX(0.9);transform-origin:left">Philippines</span></div>
<div class="x ac e" style="left:151px;top:393px;width:69px;height:25px;line-height:25px"><span style="display:inline-block;letter-spacing:0.331px;margin-right:-0.331px;transform:scaleX(0.9);transform-origin:center">USDPHP</span></div>
<div class="x ar e" style="left:221px;top:393px;width:67px;height:25px;line-height:25px"><span style="display:inline-block;letter-spacing:0.130px;margin-right:-0.130px;transform:scaleX(0.9);transform-origin:right">55.72</span></div>
<div class="x ac kp" style="left:289px;top:393px;width:60px;height:25px;line-height:25px"><span style="display:inline-block;letter-spacing:0.239px;margin-right:-0.239px;transform:scaleX(0.9);transform-origin:center">-0.02%</span></div>
<div class="x ac kg" style="left:350px;top:393px;width:59px;height:25px;line-height:25px"><span style="display:inline-block;letter-spacing:0.354px;margin-right:-0.354px;transform:scaleX(0.9);transform-origin:center">0.04%</span></div>
<div class="x ac kg" style="left:411px;top:393px;width:59px;height:25px;line-height:25px"><span style="display:inline-block;letter-spacing:0.354px;margin-right:-0.354px;transform:scaleX(0.9);transform-origin:center">0.09%</span></div>
<div class="x ac kp" style="left:471px;top:393px;width:60px;height:25px;line-height:25px"><span style="display:inline-block;letter-spacing:0.239px;margin-right:-0.239px;transform:scaleX(0.9);transform-origin:center">-0.18%</span></div>
<div class="x ar e" style="left:532px;top:393px;width:60px;height:25px;line-height:25px"><span style="display:inline-block;letter-spacing:0.130px;margin-right:-0.130px;transform:scaleX(0.9);transform-origin:right">57.12</span></div>
<div class="x ac kp" style="left:593px;top:393px;width:60px;height:25px;line-height:25px"><span style="display:inline-block;letter-spacing:0.239px;margin-right:-0.239px;transform:scaleX(0.9);transform-origin:center">-2.29%</span></div>
<div class="x ar e" style="left:654px;top:393px;width:60px;height:25px;line-height:25px"><span style="display:inline-block;letter-spacing:0.130px;margin-right:-0.130px;transform:scaleX(0.9);transform-origin:right">53.65</span></div>
<div class="x ac kg" style="left:715px;top:393px;width:60px;height:25px;line-height:25px"><span style="display:inline-block;letter-spacing:0.354px;margin-right:-0.354px;transform:scaleX(0.9);transform-origin:center">4.03%</span></div>
<div class="x ac o" style="left:1px;top:419px;width:39px;height:25px;line-height:25px"><span style="display:inline-block;letter-spacing:-0.017px;margin-right:0.017px;transform:scaleX(0.9);transform-origin:center">15</span></div>
<div class="x al o" style="left:41px;top:419px;width:109px;height:25px;line-height:25px"><span style="display:inline-block;letter-spacing:0.362px;margin-right:-0.362px;transform:scaleX(0.9);transform-origin:left">Malaysia</span></div>
<div class="x ac o" style="left:151px;top:419px;width:69px;height:25px;line-height:25px"><span style="display:inline-block;letter-spacing:0.311px;margin-right:-0.311px;transform:scaleX(0.9);transform-origin:center">USDMYR</span></div>
<div class="x ar o" style="left:221px;top:419px;width:67px;height:25px;line-height:25px"><span style="display:inline-block;letter-spacing:0.130px;margin-right:-0.130px;transform:scaleX(0.9);transform-origin:right">4.668</span></div>
<div class="x ac kp" style="left:289px;top:419px;width:60px;height:25px;line-height:25px"><span style="display:inline-block;letter-spacing:0.239px;margin-right:-0.239px;transform:scaleX(0.9);transform-origin:center">-0.04%</span></div>
<div class="x ac kp" style="left:350px;top:419px;width:59px;height:25px;line-height:25px"><span style="display:inline-block;letter-spacing:0.239px;margin-right:-0.239px;transform:scaleX(0.9);transform-origin:center">-0.04%</span></div>
<div class="x ac kG" style="left:411px;top:419px;width:59px;height:25px;line-height:25px"><span style="display:inline-block;letter-spacing:0.354px;margin-right:-0.354px;transform:scaleX(0.9);transform-origin:center">6.09%</span></div>
<div class="x ac kG" style="left:471px;top:419px;width:60px;height:25px;line-height:25px"><span style="display:inline-block;letter-spacing:0.354px;margin-right:-0.354px;transform:scaleX(0.9);transform-origin:center">5.73%</span></div>
<div class="x ar o" style="left:532px;top:419px;width:60px;height:25px;line-height:25px"><span style="display:inline-block;letter-spacing:0.130px;margin-right:-0.130px;transform:scaleX(0.9);transform-origin:right">4.790</span></div>
<div class="x ac kp" style="left:593px;top:419px;width:60px;height:25px;line-height:25px"><span style="display:inline-block;letter-spacing:0.239px;margin-right:-0.239px;transform:scaleX(0.9);transform-origin:center">-2.25%</span></div>
<div class="x ar o" style="left:654px;top:419px;width:60px;height:25px;line-height:25px"><span style="display:inline-block;letter-spacing:0.130px;margin-right:-0.130px;transform:scaleX(0.9);transform-origin:right">4.241</span></div>
<div class="x ac kl" style="left:715px;top:419px;width:60px;height:25px;line-height:25px"><span style="display:inline-block;letter-spacing:0.281px;margin-right:-0.281px;transform:scaleX(0.9);transform-origin:center">10.40%</span></div>
<div class="x ac e" style="left:1px;top:445px;width:39px;height:25px;line-height:25px"><span style="display:inline-block;letter-spacing:-0.017px;margin-right:0.017px;transform:scaleX(0.9);transform-origin:center">16</span></div>
<div class="x al e" style="left:41px;top:445px;width:109px;height:25px;line-height:25px"><span style="display:inline-block;letter-spacing:0.077px;margin-right:-0.077px;transform:scaleX(0.9);transform-origin:left">Singapore</span></div>
<div class="x ac e" style="left:151px;top:445px;width:69px;height:25px;line-height:25px"><span style="display:inline-block;letter-spacing:0.243px;margin-right:-0.243px;transform:scaleX(0.9);transform-origin:center">USDSGD</span></div>
<div class="x ar e" style="left:221px;top:445px;width:67px;height:25px;line-height:25px"><span style="display:inline-block;letter-spacing:0.130px;margin-right:-0.130px;transform:scaleX(0.9);transform-origin:right">1.332</span></div>
<div class="x ac kg" style="left:289px;top:445px;width:60px;height:25px;line-height:25px"><span style="display:inline-block;letter-spacing:0.354px;margin-right:-0.354px;transform:scaleX(0.9);transform-origin:center">0.32%</span></div>
<div class="x ac kp" style="left:350px;top:445px;width:59px;height:25px;line-height:25px"><span style="display:inline-block;letter-spacing:0.239px;margin-right:-0.239px;transform:scaleX(0.9);transform-origin:center">-1.34%</span></div>
<div class="x ac kp" style="left:411px;top:445px;width:59px;height:25px;line-height:25px"><span style="display:inline-block;letter-spacing:0.239px;margin-right:-0.239px;transform:scaleX(0.9);transform-origin:center">-0.59%</span></div>
<div class="x ac kp" style="left:471px;top:445px;width:60px;height:25px;line-height:25px"><span style="display:inline-block;letter-spacing:0.239px;margin-right:-0.239px;transform:scaleX(0.9);transform-origin:center">-2.12%</span></div>
<div class="x ar e" style="left:532px;top:445px;width:60px;height:25px;line-height:25px"><span style="display:inline-block;letter-spacing:0.130px;margin-right:-0.130px;transform:scaleX(0.9);transform-origin:right">1.373</span></div>
<div class="x ac kp" style="left:593px;top:445px;width:60px;height:25px;line-height:25px"><span style="display:inline-block;letter-spacing:0.239px;margin-right:-0.239px;transform:scaleX(0.9);transform-origin:center">-2.97%</span></div>
<div class="x ar e" style="left:654px;top:445px;width:60px;height:25px;line-height:25px"><span style="display:inline-block;letter-spacing:0.130px;margin-right:-0.130px;transform:scaleX(0.9);transform-origin:right">1.306</span></div>
<div class="x ac kg" style="left:715px;top:445px;width:60px;height:25px;line-height:25px"><span style="display:inline-block;letter-spacing:0.354px;margin-right:-0.354px;transform:scaleX(0.9);transform-origin:center">2.01%</span></div>
<div class="x ac o" style="left:1px;top:471px;width:39px;height:25px;line-height:25px"><span style="display:inline-block;letter-spacing:-0.017px;margin-right:0.017px;transform:scaleX(0.9);transform-origin:center">17</span></div>
<div class="x al o" style="left:41px;top:471px;width:109px;height:25px;line-height:25px"><span style="display:inline-block;letter-spacing:0.148px;margin-right:-0.148px;transform:scaleX(0.9);transform-origin:left">Argentina</span></div>
<div class="x ac o" style="left:151px;top:471px;width:69px;height:25px;line-height:25px"><span style="display:inline-block;letter-spacing:0.331px;margin-right:-0.331px;transform:scaleX(0.9);transform-origin:center">USDARS</span></div>
<div class="x ar o" style="left:221px;top:471px;width:67px;height:25px;line-height:25px"><span style="display:inline-block;letter-spacing:0.103px;margin-right:-0.103px;transform:scaleX(0.9);transform-origin:right">801.05</span></div>
<div class="x ac kg" style="left:289px;top:471px;width:60px;height:25px;line-height:25px"><span style="display:inline-block;letter-spacing:0.354px;margin-right:-0.354px;transform:scaleX(0.9);transform-origin:center">0.07%</span></div>
<div class="x ac kB" style="left:350px;top:471px;width:59px;height:25px;line-height:25px"><span style="display:inline-block;letter-spacing:0.233px;margin-right:-0.233px;transform:scaleX(0.9);transform-origin:center">127.18%</span></div>
<div class="x ac kB" style="left:411px;top:471px;width:59px;height:25px;line-height:25px"><span style="display:inline-block;letter-spacing:0.233px;margin-right:-0.233px;transform:scaleX(0.9);transform-origin:center">353.24%</span></div>
<div class="x ac kB" style="left:471px;top:471px;width:60px;height:25px;line-height:25px"><span style="display:inline-block;letter-spacing:0.233px;margin-right:-0.233px;transform:scaleX(0.9);transform-origin:center">364.65%</span></div>
<div class="x ar o" style="left:532px;top:471px;width:60px;height:25px;line-height:25px"><span style="display:inline-block;letter-spacing:0.103px;margin-right:-0.103px;transform:scaleX(0.9);transform-origin:right">801.05</span></div>
<div class="x ac ky" style="left:593px;top:471px;width:60px;height:25px;line-height:25px"><span style="display:inline-block;letter-spacing:0.354px;margin-right:-0.354px;transform:scaleX(0.9);transform-origin:center">0.00%</span></div>
<div class="x ar o" style="left:654px;top:471px;width:60px;height:25px;line-height:25px"><span style="display:inline-block;letter-spacing:0.103px;margin-right:-0.103px;transform:scaleX(0.9);transform-origin:right">173.60</span></div>
<div class="x ac kB" style="left:715px;top:471px;width:60px;height:25px;line-height:25px"><span style="display:inline-block;letter-spacing:0.233px;margin-right:-0.233px;transform:scaleX(0.9);transform-origin:center">361.43%</span></div>
<div class="x ac e" style="left:1px;top:497px;width:39px;height:25px;line-height:25px"><span style="display:inline-block;letter-spacing:-0.017px;margin-right:0.017px;transform:scaleX(0.9);transform-origin:center">18</span></div>
<div class="x al e" style="left:41px;top:497px;width:109px;height:25px;line-height:25px"><span style="display:inline-block;letter-spacing:0.332px;margin-right:-0.332px;transform:scaleX(0.9);transform-origin:left">Brazil</span></div>
<div class="x ac e" style="left:151px;top:497px;width:69px;height:25px;line-height:25px"><span style="display:inline-block;letter-spacing:0.197px;margin-right:-0.197px;transform:scaleX(0.9);transform-origin:center">USDBRL</span></div>
<div class="x ar e" style="left:221px;top:497px;width:67px;height:25px;line-height:25px"><span style="display:inline-block;letter-spacing:0.130px;margin-right:-0.130px;transform:scaleX(0.9);transform-origin:right">4.937</span></div>
<div class="x ac kg" style="left:289px;top:497px;width:60px;height:25px;line-height:25px"><span style="display:inline-block;letter-spacing:0.354px;margin-right:-0.354px;transform:scaleX(0.9);transform-origin:center">0.44%</span></div>
<div class="x ac kg" style="left:350px;top:497px;width:59px;height:25px;line-height:25px"><span style="display:inline-block;letter-spacing:0.354px;margin-right:-0.354px;transform:scaleX(0.9);transform-origin:center">1.54%</span></div>
<div class="x ac kr" style="left:411px;top:497px;width:59px;height:25px;line-height:25px"><span style="display:inline-block;letter-spacing:0.239px;margin-right:-0.239px;transform:scaleX(0.9);transform-origin:center">-6.60%</span></div>
<div class="x ac kr" style="left:471px;top:497px;width:60px;height:25px;line-height:25px"><span style="display:inline-block;letter-spacing:0.239px;margin-right:-0.239px;transform:scaleX(0.9);transform-origin:center">-7.08%</span></div>
<div class="x ar e" style="left:532px;top:497px;width:60px;height:25px;line-height:25px"><span style="display:inline-block;letter-spacing:0.130px;margin-right:-0.130px;transform:scaleX(0.9);transform-origin:right">5.480</span></div>
<div class="x ac kr" style="left:593px;top:497px;width:60px;height:25px;line-height:25px"><span style="display:inline-block;letter-spacing:0.239px;margin-right:-0.239px;transform:scaleX(0.9);transform-origin:center">-9.84%</span></div>
<div class="x ar e" style="left:654px;top:497px;width:60px;height:25px;line-height:25px"><span style="display:inline-block;letter-spacing:0.130px;margin-right:-0.130px;transform:scaleX(0.9);transform-origin:right">4.724</span></div>
<div class="x ac kg" style="left:715px;top:497px;width:60px;height:25px;line-height:25px"><span style="display:inline-block;letter-spacing:0.354px;margin-right:-0.354px;transform:scaleX(0.9);transform-origin:center">4.58%</span></div>
<div class="x ac o" style="left:1px;top:523px;width:39px;height:25px;line-height:25px"><span style="display:inline-block;letter-spacing:-0.017px;margin-right:0.017px;transform:scaleX(0.9);transform-origin:center">19</span></div>
<div class="x al o" style="left:41px;top:523px;width:109px;height:25px;line-height:25px"><span style="display:inline-block;letter-spacing:0.464px;margin-right:-0.464px;transform:scaleX(0.9);transform-origin:left">Mexico</span></div>
<div class="x ac o" style="left:151px;top:523px;width:69px;height:25px;line-height:25px"><span style="display:inline-block;letter-spacing:0.311px;margin-right:-0.311px;transform:scaleX(0.9);transform-origin:center">USDMXN</span></div>
<div class="x ar o" style="left:221px;top:523px;width:67px;height:25px;line-height:25px"><span style="display:inline-block;letter-spacing:0.130px;margin-right:-0.130px;transform:scaleX(0.9);transform-origin:right">17.18</span></div>
<div class="x ac kp" style="left:289px;top:523px;width:60px;height:25px;line-height:25px"><span style="display:inline-block;letter-spacing:0.239px;margin-right:-0.239px;transform:scaleX(0.9);transform-origin:center">-0.01%</span></div>
<div class="x ac kp" style="left:350px;top:523px;width:59px;height:25px;line-height:25px"><span style="display:inline-block;letter-spacing:0.239px;margin-right:-0.239px;transform:scaleX(0.9);transform-origin:center">-0.64%</span></div>
<div class="x ac kR" style="left:411px;top:523px;width:59px;height:25px;line-height:25px"><span style="display:inline-block;letter-spacing:0.198px;margin-right:-0.198px;transform:scaleX(0.9);transform-origin:center">-11.76%</span></div>
<div class="x ac kR" style="left:471px;top:523px;width:60px;height:25px;line-height:25px"><span style="display:inline-block;letter-spacing:0.198px;margin-right:-0.198px;transform:scaleX(0.9);transform-origin:center">-12.98%</span></div>
<div class="x ar o" style="left:532px;top:523px;width:60px;height:25px;line-height:25px"><span style="display:inline-block;letter-spacing:0.130px;margin-right:-0.130px;transform:scaleX(0.9);transform-origin:right">19.79</span></div>
<div class="x ac kR" style="left:593px;top:523px;width:60px;height:25px;line-height:25px"><span style="display:inline-block;letter-spacing:0.198px;margin-right:-0.198px;transform:scaleX(0.9);transform-origin:center">-12.94%</span></div>
<div class="x ar o" style="left:654px;top:523px;width:60px;height:25px;line-height:25px"><span style="display:inline-block;letter-spacing:0.130px;margin-right:-0.130px;transform:scaleX(0.9);transform-origin:right">16.67</span></div>
<div class="x ac kg" style="left:715px;top:523px;width:60px;height:25px;line-height:25px"><span style="display:inline-block;letter-spacing:0.354px;margin-right:-0.354px;transform:scaleX(0.9);transform-origin:center">3.34%</span></div>
<div class="x ac e" style="left:1px;top:549px;width:39px;height:25px;line-height:25px"><span style="display:inline-block;letter-spacing:-0.017px;margin-right:0.017px;transform:scaleX(0.9);transform-origin:center">20</span></div>
<div class="x al e" style="left:41px;top:549px;width:109px;height:25px;line-height:25px"><span style="display:inline-block;letter-spacing:0.332px;margin-right:-0.332px;transform:scaleX(0.9);transform-origin:left">Turkey</span></div>
<div class="x ac e" style="left:151px;top:549px;width:69px;height:25px;line-height:25px"><span style="display:inline-block;letter-spacing:0.266px;margin-right:-0.266px;transform:scaleX(0.9);transform-origin:center">USDTRY</span></div>
<div class="x ar e" style="left:221px;top:549px;width:67px;height:25px;line-height:25px"><span style="display:inline-block;letter-spacing:0.130px;margin-right:-0.130px;transform:scaleX(0.9);transform-origin:right">28.95</span></div>
<div class="x ac kp" style="left:289px;top:549px;width:60px;height:25px;line-height:25px"><span style="display:inline-block;letter-spacing:0.239px;margin-right:-0.239px;transform:scaleX(0.9);transform-origin:center">-0.06%</span></div>
<div class="x ac kg" style="left:350px;top:549px;width:59px;height:25px;line-height:25px"><span style="display:inline-block;letter-spacing:0.354px;margin-right:-0.354px;transform:scaleX(0.9);transform-origin:center">1.03%</span></div>
<div class="x ac kB" style="left:411px;top:549px;width:59px;height:25px;line-height:25px"><span style="display:inline-block;letter-spacing:0.281px;margin-right:-0.281px;transform:scaleX(0.9);transform-origin:center">54.92%</span></div>
<div class="x ac kB" style="left:471px;top:549px;width:60px;height:25px;line-height:25px"><span style="display:inline-block;letter-spacing:0.281px;margin-right:-0.281px;transform:scaleX(0.9);transform-origin:center">55.34%</span></div>
<div class="x ar e" style="left:532px;top:549px;width:60px;height:25px;line-height:25px"><span style="display:inline-block;letter-spacing:0.130px;margin-right:-0.130px;transform:scaleX(0.9);transform-origin:right">28.97</span></div>
<div class="x ac kp" style="left:593px;top:549px;width:60px;height:25px;line-height:25px"><span style="display:inline-block;letter-spacing:0.239px;margin-right:-0.239px;transform:scaleX(0.9);transform-origin:center">-0.05%</span></div>
<div class="x ar e" style="left:654px;top:549px;width:60px;height:25px;line-height:25px"><span style="display:inline-block;letter-spacing:0.130px;margin-right:-0.130px;transform:scaleX(0.9);transform-origin:right">18.64</span></div>
<div class="x ac kB" style="left:715px;top:549px;width:60px;height:25px;line-height:25px"><span style="display:inline-block;letter-spacing:0.281px;margin-right:-0.281px;transform:scaleX(0.9);transform-origin:center">55.30%</span></div>
<div id="note">Màu đỏ thể hiện đồng USD mất giá và màu xanh thể hiện đồng USD tăng giá so với các bản tệ khác.</div>
</div></body></html>
